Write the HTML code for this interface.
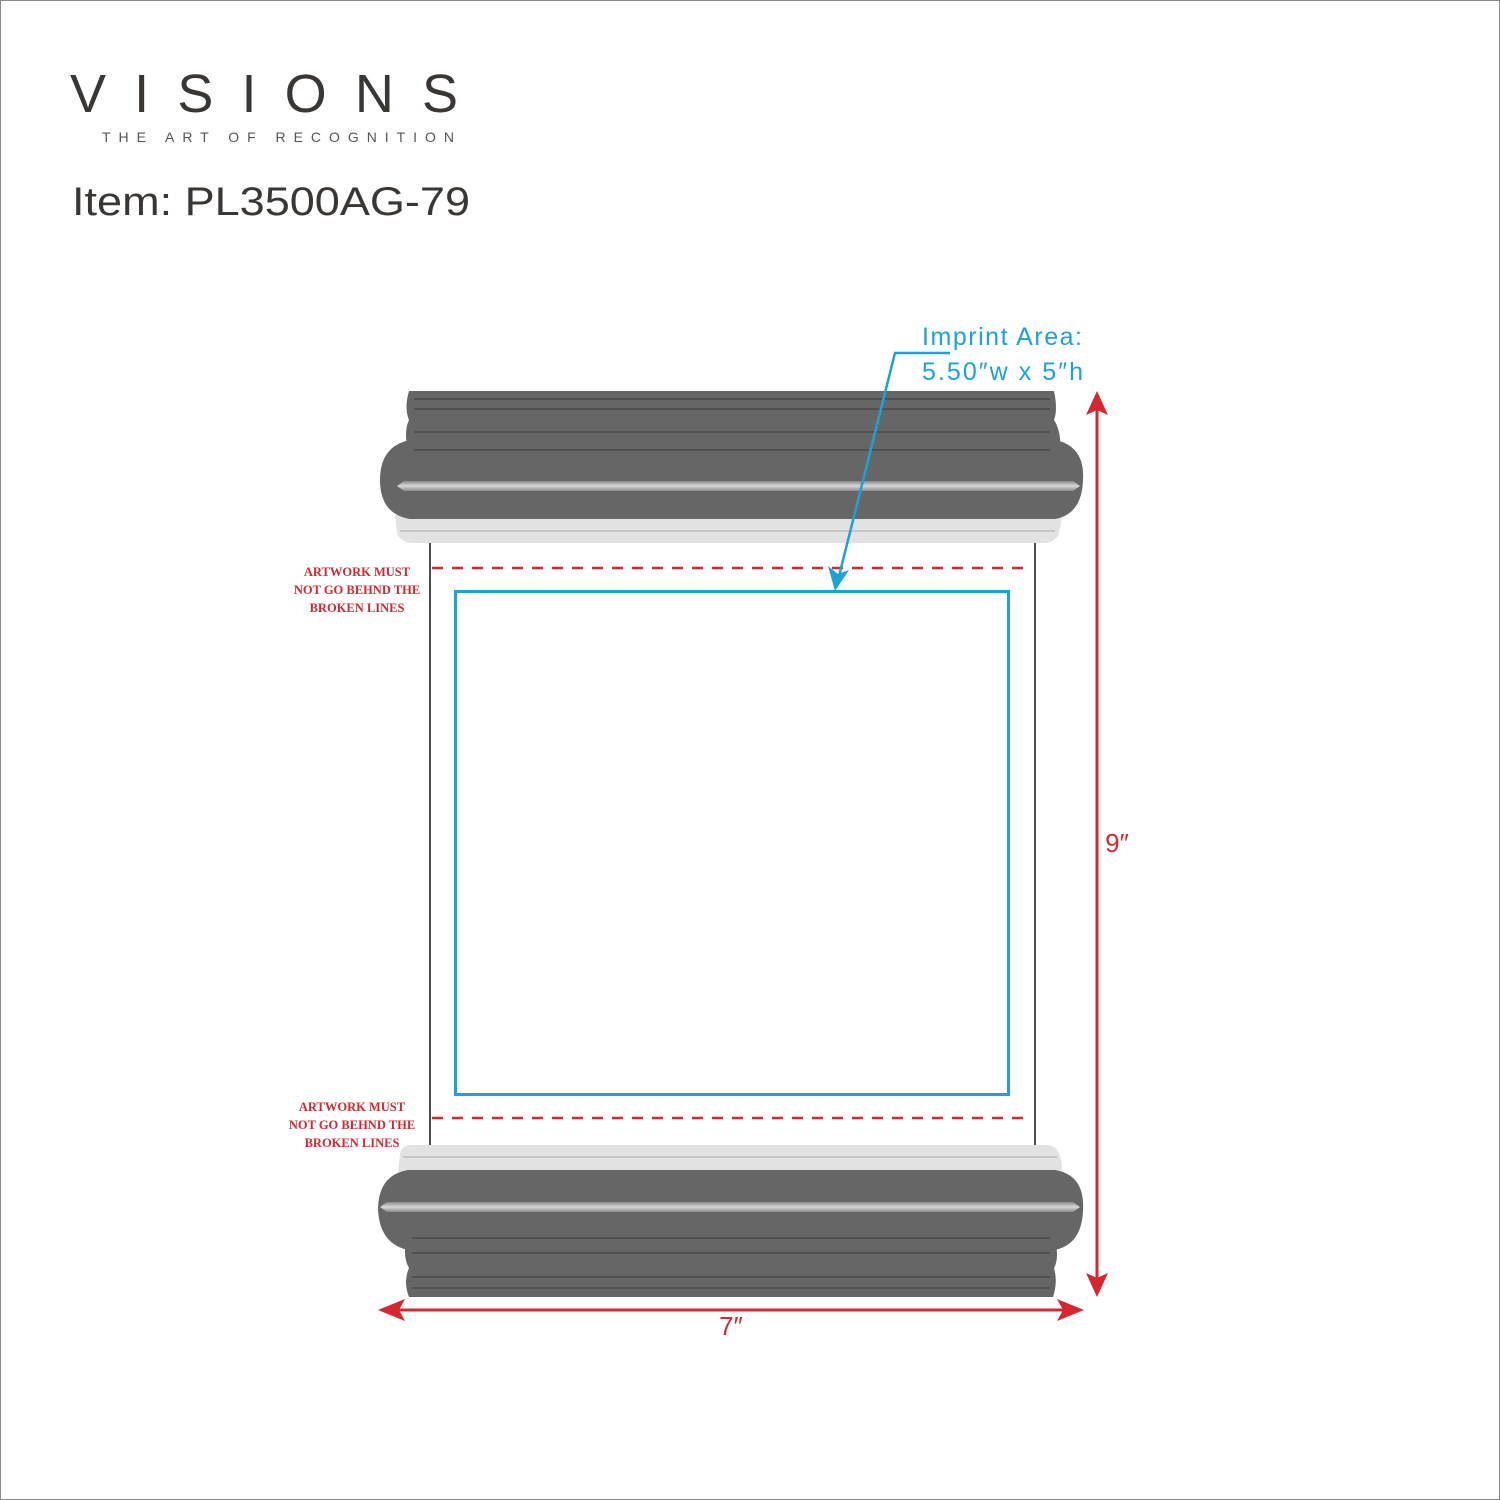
<!DOCTYPE html>
<html><head><meta charset="utf-8"><style>
html,body{margin:0;padding:0;background:#fff}
svg{display:block}
</style></head><body>
<svg width="1500" height="1500" viewBox="0 0 1500 1500" xmlns="http://www.w3.org/2000/svg">
<defs>
<linearGradient id="hl" x1="0" y1="0" x2="0" y2="1">
<stop offset="0" stop-color="#8a8a8a"/><stop offset="0.5" stop-color="#d8d8d8"/><stop offset="1" stop-color="#8a8a8a"/>
</linearGradient>
</defs>
<rect x="0.5" y="0.5" width="1499" height="1499" fill="#fff" stroke="#888"/>
<text x="70" y="112" font-family="Liberation Sans, sans-serif" font-size="54" fill="#3a3633" textLength="388" lengthAdjust="spacing">VISIONS</text>
<text x="102" y="142" font-family="Liberation Sans, sans-serif" font-size="14" fill="#555" textLength="352">THE ART OF RECOGNITION</text>
<text x="72" y="215" font-family="Liberation Sans, sans-serif" font-size="40" fill="#3a3633" textLength="398" lengthAdjust="spacingAndGlyphs">Item: PL3500AG-79</text>

<!-- body -->
<rect x="430" y="540" width="605" height="608" fill="#fff" stroke="#111" stroke-width="1.5"/>
<line x1="432" y1="568" x2="1028" y2="568" stroke="#d7262f" stroke-width="2.5" stroke-dasharray="11,9"/>
<line x1="432" y1="1118" x2="1028" y2="1118" stroke="#d7262f" stroke-width="2.5" stroke-dasharray="11,9"/>
<rect x="455.5" y="591.5" width="553" height="503" fill="none" stroke="#1aa3d9" stroke-width="3"/>

<!-- top cap -->
<path d="M409 391 H1054 Q1058 410 1054 420 Q1062 432 1060 455 L409 455 Q403 432 409 420 Q404 408 409 391Z" fill="#666"/>
<line x1="414" y1="399" x2="1050" y2="399" stroke="#444" stroke-width="1.2"/>
<line x1="414" y1="409" x2="1050" y2="409" stroke="#444" stroke-width="1.2"/>
<line x1="414" y1="432" x2="1050" y2="432" stroke="#444" stroke-width="1.2"/>
<path d="M395 515 H1062 Q1060 530 1058 536 Q1052 543 1045 543 H410 Q398 540 397 532Z" fill="#e2e2e2"/>
<line x1="400" y1="531" x2="1055" y2="531" stroke="#aaa" stroke-width="1"/>
<path d="M410 440 H1055 Q1085 446 1083 480 Q1082 514 1055 519 H410 Q380 514 380 480 Q380 446 410 440Z" fill="#666"/>
<line x1="414" y1="450" x2="1050" y2="450" stroke="#444" stroke-width="1.2"/>
<path d="M397 486 L404 481 H1073 L1080 486 L1073 491 H404Z" fill="url(#hl)"/>

<!-- bottom cap -->
<path d="M398 1172 H1062 Q1062 1158 1058 1152 Q1055 1145 1045 1145 H410 Q400 1147 400 1155Z" fill="#e2e2e2"/>
<line x1="403" y1="1157" x2="1057" y2="1157" stroke="#aaa" stroke-width="1"/>
<path d="M407 1235 H1054 Q1060 1258 1054 1268 Q1058 1282 1053 1297 H409 Q403 1282 409 1268 Q402 1256 407 1235Z" fill="#666"/>
<path d="M408 1170 H1055 Q1085 1175 1083 1210 Q1082 1244 1055 1250 H408 Q380 1244 378 1210 Q378 1175 408 1170Z" fill="#666"/>
<line x1="412" y1="1238" x2="1050" y2="1238" stroke="#444" stroke-width="1.2"/>
<line x1="412" y1="1253" x2="1050" y2="1253" stroke="#444" stroke-width="1.2"/>
<line x1="412" y1="1277" x2="1050" y2="1277" stroke="#444" stroke-width="1.2"/>
<line x1="412" y1="1288" x2="1050" y2="1288" stroke="#444" stroke-width="1.2"/>
<path d="M380 1207 L387 1202 H1073 L1080 1207 L1073 1212 H387Z" fill="url(#hl)"/>

<!-- red labels -->
<g font-family="Liberation Serif, serif" font-size="12.5" font-weight="bold" fill="#d7262f" text-anchor="middle">
<text x="357" y="576">ARTWORK MUST</text>
<text x="357" y="594">NOT GO BEHND THE</text>
<text x="357" y="612">BROKEN LINES</text>
<text x="352" y="1111">ARTWORK MUST</text>
<text x="352" y="1129">NOT GO BEHND THE</text>
<text x="352" y="1147">BROKEN LINES</text>
</g>

<!-- dimension arrows -->
<line x1="1097" y1="405" x2="1097" y2="1283" stroke="#d7262f" stroke-width="3"/>
<path d="M1097 391 L1108 415 L1097 410 L1086 415Z" fill="#d7262f"/>
<path d="M1097 1297 L1108 1273 L1097 1278 L1086 1273Z" fill="#d7262f"/>
<text x="1117" y="852" font-family="Liberation Sans, sans-serif" font-size="26" fill="#d7262f" text-anchor="middle">9″</text>
<line x1="392" y1="1310" x2="1070" y2="1310" stroke="#d7262f" stroke-width="3"/>
<path d="M378 1310 L405 1299 L399 1310 L405 1321Z" fill="#d7262f"/>
<path d="M1084 1310 L1057 1299 L1063 1310 L1057 1321Z" fill="#d7262f"/>
<text x="731" y="1335" font-family="Liberation Sans, sans-serif" font-size="26" fill="#d7262f" text-anchor="middle">7″</text>

<!-- imprint leader -->
<polyline points="950,353 895,353 838,580" fill="none" stroke="#1aa3d9" stroke-width="2.5"/>
<path d="M835 591 L828 566 L838 574 L849 570Z" fill="#1aa3d9"/>
<text x="922" y="345" font-family="Liberation Sans, sans-serif" font-size="25" fill="#1aa3d9" textLength="160">Imprint Area:</text>
<text x="922" y="380" font-family="Liberation Sans, sans-serif" font-size="25" fill="#1aa3d9" textLength="161">5.50″w x 5″h</text>
</svg>
</body></html>
